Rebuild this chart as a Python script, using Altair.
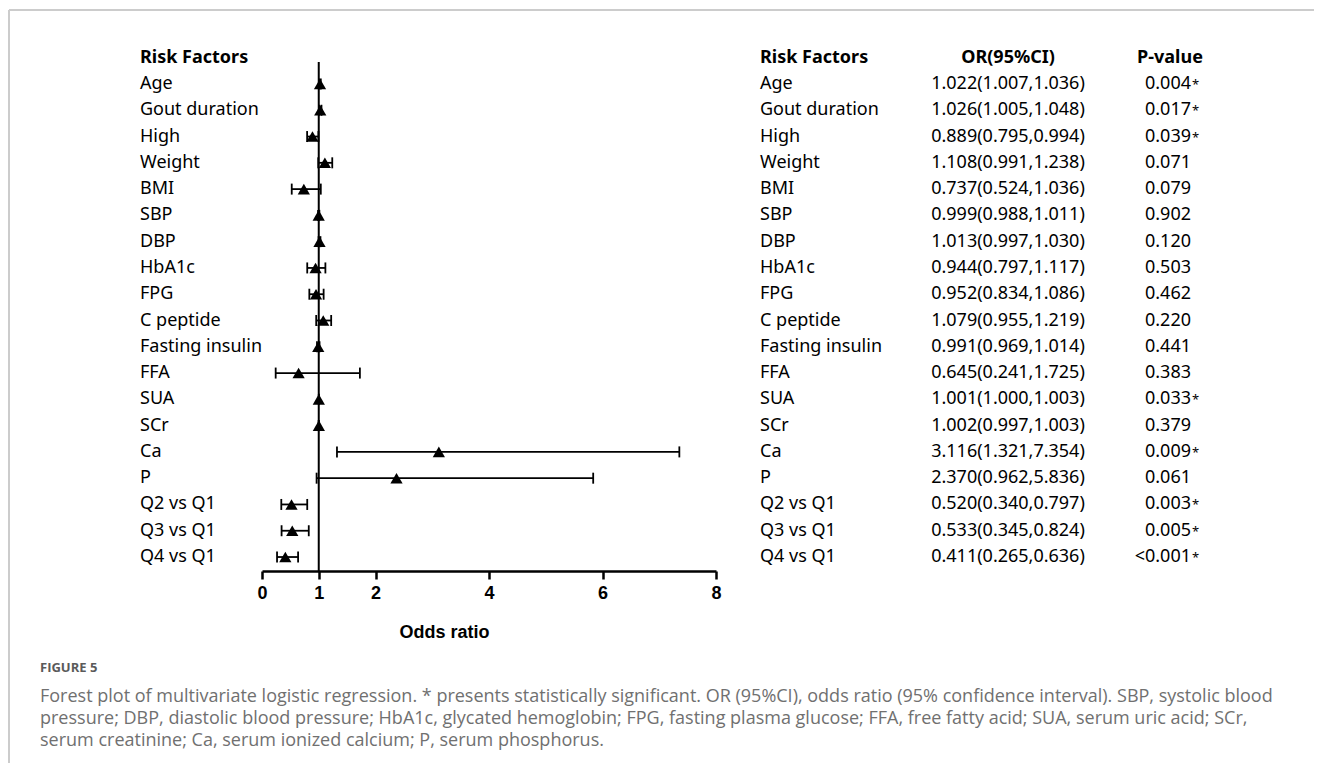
import altair as alt
import pandas as pd

factors = ["Age", "Gout duration", "High", "Weight", "BMI", "SBP", "DBP", "HbA1c",
           "FPG", "C peptide", "Fasting insulin", "FFA", "SUA", "SCr", "Ca", "P",
           "Q2 vs Q1", "Q3 vs Q1", "Q4 vs Q1"]
or_vals = [1.022, 1.026, 0.889, 1.108, 0.737, 0.999, 1.013, 0.944, 0.952, 1.079,
           0.991, 0.645, 1.001, 1.002, 3.116, 2.370, 0.520, 0.533, 0.411]
ci_low = [1.007, 1.005, 0.795, 0.991, 0.524, 0.988, 0.997, 0.797, 0.834, 0.955,
          0.969, 0.241, 1.000, 0.997, 1.321, 0.962, 0.340, 0.345, 0.265]
ci_high = [1.036, 1.048, 0.994, 1.238, 1.036, 1.011, 1.030, 1.117, 1.086, 1.219,
           1.014, 1.725, 1.003, 1.003, 7.354, 5.836, 0.797, 0.824, 0.636]
p_values = ["0.004*", "0.017*", "0.039*", "0.071", "0.079", "0.902", "0.120", "0.503",
            "0.462", "0.220", "0.441", "0.383", "0.033*", "0.379", "0.009*", "0.061",
            "0.003*", "0.005*", "<0.001*"]
x_ticks = [0, 1, 2, 4, 6, 8]
headers_left = ["Risk Factors"]
headers_right = ["Risk Factors", "OR(95%CI)", "P-value"]
axis_title = "Odds ratio"
fig_label = "FIGURE 5"
caption_lines = [
    "Forest plot of multivariate logistic regression. * presents statistically significant. OR (95%CI), odds ratio (95% confidence interval). SBP, systolic blood",
    "pressure; DBP, diastolic blood pressure; HbA1c, glycated hemoglobin; FPG, fasting plasma glucose; FFA, free fatty acid; SUA, serum uric acid; SCr,",
    "serum creatinine; Ca, serum ionized calcium; P, serum phosphorus.",
]

W, H = 1306, 755
AXIS_Y = 563
ROW0_Y, ROW_STEP = 49.7, 26.28
FONT = "Noto Sans"

df = pd.DataFrame({
    "row": list(range(1, len(factors) + 1)),
    "factor": factors,
    "or": or_vals,
    "lo": ci_low,
    "hi": ci_high,
    "p": p_values,
})
df["or_text"] = [f"{o:.3f}({l:.3f},{h:.3f})" for o, l, h in zip(or_vals, ci_low, ci_high)]
df["p_num"] = [p.rstrip("*") for p in p_values]
df["star"] = ["*" if p.endswith("*") else "" for p in p_values]

xscale = alt.Scale(domain=[0, 8], range=[254, 708], nice=False, zero=False)
yscale = alt.Scale(domain=[0, 19], range=[ROW0_Y, ROW0_Y + ROW_STEP * 19], nice=False, zero=False)

xaxis = alt.Axis(
    values=x_ticks, format="d", labelFont="Liberation Sans", labelFontWeight="bold",
    labelFontSize=18, labelColor="black", labelPadding=5, labelFlush=False,
    labelOverlap=False, tickSize=8, tickWidth=2.5, tickColor="black",
    domainColor="black", domainWidth=2.5, grid=False, offset=AXIS_Y - H,
    title=axis_title, titleFont="Liberation Sans", titleFontSize=18,
    titleFontWeight="bold", titleColor="black", titleX=436, titleY=61,
    titleAlign="center", titleBaseline="middle", titleAngle=0,
)


def X(field):
    return alt.X(field, type="quantitative", scale=xscale, axis=xaxis)


def Y():
    return alt.Y("row:Q", scale=yscale, axis=None)


base = alt.Chart(df)

ref = alt.Chart(pd.DataFrame({"v": [1.0]})).mark_rule(color="black", strokeWidth=2).encode(
    x=X("v"), y=alt.value(54), y2=alt.value(AXIS_Y)
)
ci = base.mark_rule(color="black", strokeWidth=1.8).encode(x=X("lo"), x2="hi", y=Y())
cap_lo = base.mark_tick(orient="vertical", size=11, thickness=1.8, color="black", opacity=1).encode(x=X("lo"), y=Y())
cap_hi = base.mark_tick(orient="vertical", size=11, thickness=1.8, color="black", opacity=1).encode(x=X("hi"), y=Y())
pts = base.mark_point(shape="triangle-up", filled=True, size=150, color="black", opacity=1).encode(x=X("or"), y=Y())

txt = dict(baseline="middle", font=FONT, fontSize=18, color="black")
left_lab = base.mark_text(align="left", **txt).encode(x=alt.value(132), y=Y(), text="factor")
right_lab = base.mark_text(align="left", **txt).encode(x=alt.value(752), y=Y(), text="factor")
or_col = base.mark_text(align="center", **txt).encode(x=alt.value(1000), y=Y(), text="or_text")
p_col = base.mark_text(align="right", **txt).encode(x=alt.value(1183), y=Y(), text="p_num")
star_col = base.mark_text(align="left", baseline="middle", font=FONT, fontSize=13, color="black", dy=1).encode(
    x=alt.value(1184), y=Y(), text="star")

hdr = dict(baseline="middle", font=FONT, fontSize=18, fontWeight="bold", color="black")
hdf = pd.DataFrame({"row": [0], "t1": headers_left, "a": [headers_right[0]],
                    "b": [headers_right[1]], "c": [headers_right[2]]})
hbase = alt.Chart(hdf)
h1 = hbase.mark_text(align="left", **hdr).encode(x=alt.value(132), y=Y(), text="t1")
h2 = hbase.mark_text(align="left", **hdr).encode(x=alt.value(752), y=Y(), text="a")
h3 = hbase.mark_text(align="center", **hdr).encode(x=alt.value(1000), y=Y(), text="b")
h4 = hbase.mark_text(align="center", **hdr).encode(x=alt.value(1162), y=Y(), text="c")

fig = alt.Chart(pd.DataFrame({"t": [fig_label]})).mark_text(
    align="left", baseline="middle", font="Open Sans", fontSize=13, fontWeight="bold", color="#5a5a5a"
).encode(x=alt.value(32), y=alt.value(660), text="t")

cap_layers = []
for i, line in enumerate(caption_lines):
    cap_layers.append(
        alt.Chart(pd.DataFrame({"t": [line]})).mark_text(
            align="left", baseline="middle", font="Open Sans", fontSize=18, color="#707070"
        ).encode(x=alt.value(32), y=alt.value(689 + 22 * i), text="t")
    )

border_top = alt.Chart(pd.DataFrame({"t": [0]})).mark_rule(color="#cccccc", strokeWidth=2).encode(
    x=alt.value(1), x2=alt.value(W), y=alt.value(2))
border_left = alt.Chart(pd.DataFrame({"t": [0]})).mark_rule(color="#cccccc", strokeWidth=2).encode(
    x=alt.value(1), y=alt.value(2), y2=alt.value(H))

chart = alt.layer(
    border_top, border_left, ref, ci, cap_lo, cap_hi, pts,
    left_lab, right_lab, or_col, p_col, star_col, h1, h2, h3, h4, fig, *cap_layers
).properties(
    width=W, height=H, autosize=alt.AutoSizeParams(type="none"), padding=0,
    background="white"
).configure_view(stroke=None)

chart.save("out.html", embed_options={"renderer": "svg", "actions": False})
